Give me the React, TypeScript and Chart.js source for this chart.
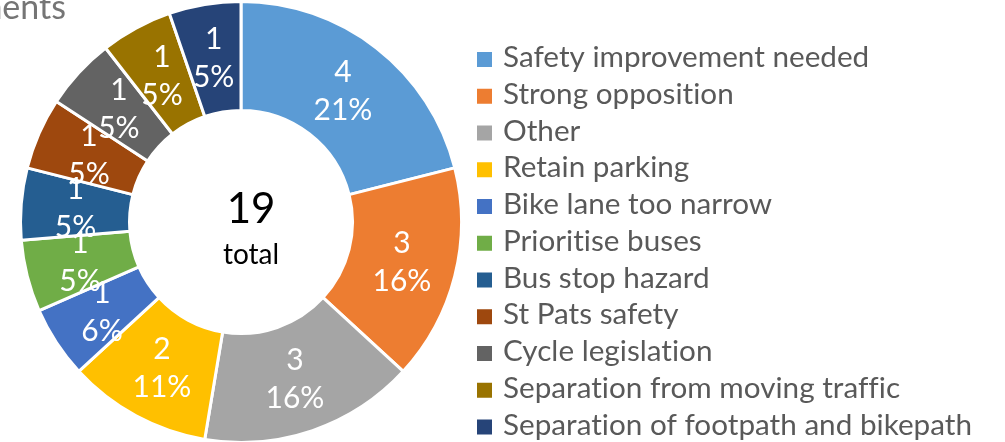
import React, { useEffect, useRef } from "react";
import { Chart, registerables } from "chart.js";

Chart.register(...registerables);

const titleText = "Comments";
const categories = [
  "Safety improvement needed",
  "Strong opposition",
  "Other",
  "Retain parking",
  "Bike lane too narrow",
  "Prioritise buses",
  "Bus stop hazard",
  "St Pats safety",
  "Cycle legislation",
  "Separation from moving traffic",
  "Separation of footpath and bikepath",
];
const values = [4, 3, 3, 2, 1, 1, 1, 1, 1, 1, 1];
const percentLabels = ["21%", "16%", "16%", "11%", "6%", "5%", "5%", "5%", "5%", "5%", "5%"];
const colors = [
  "#5B9BD5",
  "#ED7D31",
  "#A5A5A5",
  "#FFC000",
  "#4472C4",
  "#70AD47",
  "#255E91",
  "#9E480E",
  "#636363",
  "#997300",
  "#264478",
];
const centerSubLabel = "total";

const FONT = "Lato";

function noLigatures(ctx: any) {
  try {
    ctx.letterSpacing = "0.01px";
  } catch (e) {
    /* ignore */
  }
}

const labelsPlugin = {
  id: "arcLabels",
  afterDatasetsDraw(chart: any) {
    const ctx = chart.ctx as CanvasRenderingContext2D;
    const meta = chart.getDatasetMeta(0);
    ctx.save();
    noLigatures(ctx);
    ctx.fillStyle = "#ffffff";
    ctx.textAlign = "center";
    ctx.textBaseline = "middle";
    ctx.font = `30px ${FONT}`;
    meta.data.forEach((arc: any, i: number) => {
      const p = arc.getProps(["x", "y", "startAngle", "endAngle", "innerRadius", "outerRadius"], true);
      const mid = (p.startAngle + p.endAngle) / 2;
      const r = (p.innerRadius + p.outerRadius) / 2;
      const cx = p.x + Math.cos(mid) * r;
      const cy = p.y + Math.sin(mid) * r;
      ctx.fillText(String(values[i]), cx, cy - 19);
      ctx.fillText(percentLabels[i], cx, cy + 19);
    });
    // center text
    const a0 = meta.data[0];
    const total = values.reduce((s, v) => s + v, 0);
    ctx.fillStyle = "#000000";
    ctx.textBaseline = "alphabetic";
    ctx.font = `42px ${FONT}`;
    ctx.fillText(String(total), a0.x + 10, 223);
    ctx.font = `28px ${FONT}`;
    ctx.fillText(centerSubLabel, a0.x + 10, 264);
    ctx.restore();
  },
};

const legendPlugin = {
  id: "sideLegend",
  afterDraw(chart: any) {
    const ctx = chart.ctx as CanvasRenderingContext2D;
    ctx.save();
    noLigatures(ctx);
    // fit font so the longest label spans the measured width
    ctx.font = `100px ${FONT}`;
    let maxW = 0;
    chart.data.labels.forEach((l: string) => {
      maxW = Math.max(maxW, ctx.measureText(l).width);
    });
    const size = Math.min(30, (100 * 469) / maxW);
    ctx.font = `${size}px ${FONT}`;
    ctx.textAlign = "left";
    ctx.textBaseline = "alphabetic";
    const bg = chart.data.datasets[0].backgroundColor as string[];
    chart.data.labels.forEach((l: string, i: number) => {
      const cy = 59.5 + i * 36.75;
      ctx.fillStyle = bg[i];
      ctx.fillRect(477, cy - 7.5, 15, 15);
      ctx.fillStyle = "#595959";
      ctx.fillText(l, 503, cy + 7.5);
    });
    // title (cropped at the left edge)
    ctx.font = `34px ${FONT}`;
    ctx.fillStyle = "#757575";
    ctx.textAlign = "right";
    ctx.fillText(titleText, 66, 19);
    ctx.restore();
  },
};

export default function App() {
  const ref = useRef<HTMLCanvasElement | null>(null);
  useEffect(() => {
    if (!ref.current) return;
    const chart = new Chart(ref.current, {
      type: "doughnut",
      data: {
        labels: categories,
        datasets: [
          {
            data: values,
            backgroundColor: colors,
            borderColor: "#ffffff",
            borderWidth: 3,
            hoverOffset: 0,
          },
        ],
      },
      options: {
        responsive: false,
        animation: false,
        events: [],
        radius: 220.5,
        cutout: 110,
        layout: { padding: { left: 22, right: 545, top: 3, bottom: 1 } },
        plugins: {
          legend: { display: false },
          tooltip: { enabled: false },
          title: { display: false },
        },
      } as any,
      plugins: [labelsPlugin, legendPlugin],
    });
    return () => chart.destroy();
  }, []);
  return (
    <div style={{ position: "fixed", left: 0, top: 0, width: 1005, height: 442, background: "#ffffff" }}>
      <canvas ref={ref} width={1005} height={442} style={{ display: "block" }} />
    </div>
  );
}
